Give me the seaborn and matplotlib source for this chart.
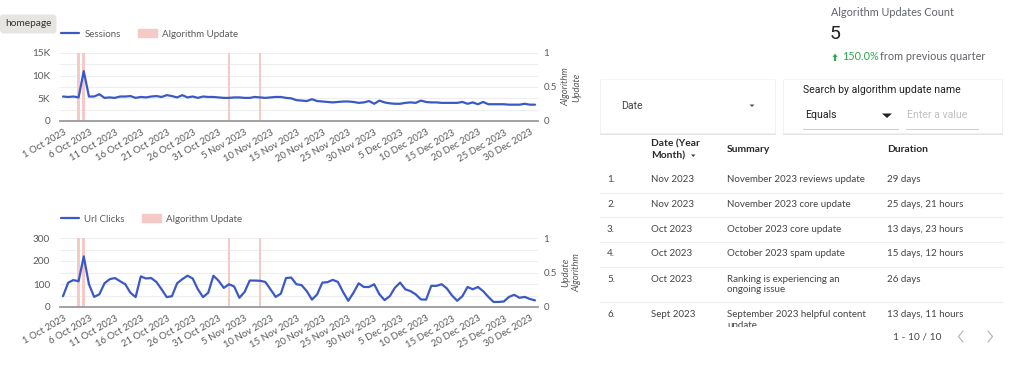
import numpy as np
import pandas as pd
import seaborn as sns
import matplotlib
matplotlib.use("Agg")
import matplotlib.pyplot as plt
from matplotlib.lines import Line2D
from matplotlib.patches import Patch, Rectangle, FancyBboxPatch, Polygon

# ---------------- data ----------------
start_date = "2023-10-01"
sessions_k = [5.4, 5.3, 5.4, 5.2, 11.0, 5.4, 5.4, 5.9, 5.1, 5.2, 5.1, 5.4, 5.4, 5.5, 5.1, 5.3,
              5.2, 5.4, 5.5, 5.3, 5.7, 5.5, 5.2, 5.7, 5.2, 5.4, 5.1, 5.4, 5.3, 5.3, 5.2, 5.1,
              5.1, 5.2, 5.2, 5.1, 5.1, 5.3, 5.2, 5.1, 5.2, 5.3, 5.3, 5.1, 5.0, 4.6, 4.5,
              4.4, 4.8, 4.4, 4.3, 4.2, 4.1, 4.2, 4.3, 4.3, 4.2, 4.0, 4.1, 4.4, 3.8, 4.5, 4.1,
              3.9, 3.8, 3.8, 4.0, 4.1, 4.0, 4.5, 4.2, 4.1, 4.1, 4.0, 4.0, 4.0, 4.0, 4.2, 3.8,
              4.1, 3.7, 4.2, 3.7, 3.7, 3.7, 3.7, 3.6, 3.6, 3.6, 3.8, 3.6, 3.6]
url_clicks = [47, 106, 117, 112, 220, 99, 44, 55, 103, 121, 126, 112, 99, 62, 43, 133,
              124, 126, 109, 77, 43, 47, 103, 121, 136, 124, 77, 43, 62, 136, 114, 83,
              99, 89, 40, 65, 115, 115, 114, 109, 77, 44, 58, 126, 128, 99, 95, 69,
              32, 55, 106, 108, 118, 109, 65, 27, 62, 103, 87, 87, 99, 55, 30, 47,
              84, 106, 77, 69, 55, 33, 32, 92, 92, 99, 81, 50, 27, 47, 87, 77,
              87, 69, 44, 22, 22, 24, 44, 53, 40, 44, 35, 29]
update_dates = ["2023-10-04", "2023-10-05", "2023-11-02", "2023-11-08"]
update_flags = [1, 1, 1, 1]

kpi_title = "Algorithm Updates Count"
kpi_value = "5"
kpi_change = "150.0%"
kpi_change_text = "from previous quarter"

table_nums = ["1.", "2.", "3.", "4.", "5.", "6."]
table_dates = ["Nov 2023", "Nov 2023", "Oct 2023", "Oct 2023", "Oct 2023", "Sept 2023"]
table_summaries = ["November 2023 reviews update", "November 2023 core update",
                   "October 2023 core update", "October 2023 spam update",
                   "Ranking is experiencing an\nongoing issue",
                   "September 2023 helpful content\nupdate"]
table_durations = ["29 days", "25 days, 21 hours", "13 days, 23 hours",
                   "15 days, 12 hours", "26 days", "13 days, 11 hours"]
pagination = "1 - 10 / 10"

# ---------------- setup ----------------
sns.set_theme(style="white")
plt.rcParams["font.family"] = ["Lato", "DejaVu Sans"]

dates = pd.date_range(start_date, periods=len(url_clicks), freq="D")
df = pd.DataFrame({"date": dates,
                   "Sessions": np.array(sessions_k) * 1000,
                   "Url Clicks": url_clicks})
upd = pd.DataFrame({"date": pd.to_datetime(update_dates), "flag": update_flags})

W, H = 1024, 372
fig = plt.figure(figsize=(W / 100, H / 100), dpi=100)
fig.patch.set_facecolor("white")

BLUE = "#3b59c6"
PINK = "#f5c9c5"
GRID = "#eeeeee"
TXT = "#5a5a5a"


def px_axes(l, t, r, b, **kw):
    return fig.add_axes([l / W, 1 - b / H, (r - l) / W, (b - t) / H], **kw)


def chart(top, bottom, col, ymax, yticks, yticklabels, legend_y, y2label, y2x):
    ax = px_axes(60, top, 538, bottom)
    ax2 = ax.twinx()
    ax.set_zorder(ax2.get_zorder() + 1)
    ax.patch.set_visible(False)

    # update bars on secondary axis
    ax2.bar(upd["date"], upd["flag"], width=0.5, color=PINK, zorder=2, linewidth=0)
    ax2.set_ylim(0, 1)
    ax2.set_yticks([0, 0.5, 1])
    ax2.set_yticklabels(["0", "0.5", "1"])
    ax2.set_yticks(np.arange(0, 1.01, 1 / 6), minor=True)
    ax2.set_axisbelow(True)
    ax2.grid(which="both", axis="y", color=GRID, lw=0.8)
    ax2.grid(False, axis="x")
    ax2.tick_params(axis="y", which="both", length=0, pad=4, labelsize=7, labelcolor=TXT)
    for s in ax2.spines.values():
        s.set_visible(False)
    ax2.text(y2x, 0.5, y2label, transform=ax2.transAxes, rotation=90, ha="center",
             va="center", fontsize=6.8, style="italic", color=TXT, linespacing=1.25)

    sns.lineplot(data=df, x="date", y=col, ax=ax, color=BLUE, lw=1.6, zorder=3)
    ax.set_xlim(dates[0] - pd.Timedelta(days=0.58), dates[-1] + pd.Timedelta(days=0.58))
    ax.set_ylim(0, ymax)
    ax.set_yticks(yticks)
    ax.set_yticklabels(yticklabels)
    ax.grid(False)
    ax.set_xlabel("")
    ax.set_ylabel("")
    tick_dates = dates[::5]
    ax.set_xticks(tick_dates)
    ax.set_xticklabels([f"{d.day} {d.strftime('%b %Y')}" for d in tick_dates],
                       rotation=30, ha="right", rotation_mode="anchor")
    ax.tick_params(axis="x", length=0, pad=5, labelsize=6.9, labelcolor=TXT)
    ax.tick_params(axis="y", length=0, pad=7, labelsize=7.2, labelcolor=TXT)
    for k, s in ax.spines.items():
        s.set_visible(k == "bottom")
    ax.spines["bottom"].set_color("#9a9a9a")
    ax.spines["bottom"].set_linewidth(1.3)

    handles = [Line2D([0], [0], color=BLUE, lw=1.6), Patch(color=PINK)]
    ax.legend(handles, [col, "Algorithm Update"], loc="center left",
              bbox_to_anchor=(61 / W, 1 - legend_y / H), bbox_transform=fig.transFigure,
              ncol=2, frameon=False, fontsize=7, handlelength=1.9, handleheight=0.9,
              handletextpad=0.5, columnspacing=1.8, borderpad=0, borderaxespad=0,
              labelcolor=TXT)
    return ax


chart(53, 121, "Sessions", 15000, [0, 5000, 10000, 15000], ["0", "5K", "10K", "15K"],
      34, "Algorithm\nUpdate", 1.07)
chart(238, 307, "Url Clicks", 300, [0, 100, 200, 300], ["0", "100", "200", "300"],
      219, "Update\nAlgorithm", 1.07)

# ---------------- overlay (dashboard widgets) ----------------
ov = fig.add_axes([0, 0, 1, 1], zorder=10)
ov.set_xlim(0, W)
ov.set_ylim(H, 0)
ov.axis("off")

# tooltip "homepage"
ov.add_patch(FancyBboxPatch((0.5, 15.5), 56, 18, boxstyle="round,pad=0,rounding_size=3",
                            fc="#d6d4d1", ec="none", alpha=0.6))
ov.add_patch(FancyBboxPatch((0, 14.5), 56, 18, boxstyle="round,pad=0,rounding_size=3",
                            fc="#e7e5e2", ec="none"))
ov.text(5, 23.5, "homepage", fontsize=7.3, color="#333333", va="center", ha="left")

# KPI
ov.text(831, 13, kpi_title, fontsize=7.8, color="#5f6368", va="center", ha="left")
ov.text(830, 34, kpi_value, fontsize=14, color="#202124", va="center", ha="left",
        family=["Roboto", "DejaVu Sans"])
ov.add_patch(Polygon([[832.5, 57], [837.5, 57], [835, 53.5]], closed=True, fc="#34a853", ec="none"))
ov.plot([835, 835], [56, 60.5], color="#34a853", lw=1.6, solid_capstyle="butt")
ov.text(842, 57, kpi_change, fontsize=7.8, color="#34a853", va="center", ha="left")
ov.text(880, 57, kpi_change_text, fontsize=7.8, color="#5f6368", va="center", ha="left")

# filter boxes
for (x0, x1) in [(600, 775), (783, 1002)]:
    ov.add_patch(Rectangle((x0 - 0.5, 80.5), x1 - x0 + 1, 54.5, fc="#cfcfcf", ec="none", alpha=0.55))
    ov.add_patch(Rectangle((x0, 79), x1 - x0, 54, fc="white", ec="#f0f0f0", lw=0.4))
RB = ["Roboto", "DejaVu Sans"]
ov.text(621, 106, "Date", fontsize=7.6, color="#444444", va="center", ha="left", family=RB)
ov.add_patch(Polygon([[749.5, 104.5], [754.5, 104.5], [752, 107]], closed=True, fc="#555555", ec="none"))
ov.text(803, 90, "Search by algorithm update name", fontsize=7.6, color="#222222",
        va="center", ha="left", family=RB)
ov.text(805, 115.5, "Equals", fontsize=7.6, color="#222222", va="center", ha="left", family=RB)
ov.add_patch(Polygon([[882, 113.5], [892, 113.5], [887, 118]], closed=True, fc="#222222", ec="none"))
ov.plot([803, 898], [129, 129], color="#d0d0d0", lw=0.8)
ov.text(907, 115.5, "Enter a value", fontsize=7.6, color="#c0c0c0", va="center", ha="left", family=RB)
ov.plot([906, 978], [129, 129], color="#d0d0d0", lw=0.8)

# table header
HB = dict(fontsize=7.4, color="#2a2a2a", fontweight="bold", va="center", ha="left")
ov.text(651, 144, "Date (Year", **HB)
ov.text(651, 155.5, "Month)", **HB)
ov.add_patch(Polygon([[691, 154.5], [695.5, 154.5], [693.25, 157]], closed=True, fc="#444444", ec="none"))
ov.text(727, 150, "Summary", **HB)
ov.text(887, 150, "Duration", **HB)

# table rows
row_y = [180, 204.5, 229.5, 254, 279, 314.5]
sep_y = [192.5, 217, 242, 267, 302]
BT = dict(fontsize=7.0, color="#444444", va="center", ha="left")
for y in sep_y:
    ov.plot([600, 1003], [y, y], color="#efefef", lw=0.8)
for i, y in enumerate(row_y):
    ov.text(607, y, table_nums[i], **BT)
    ov.text(651, y, table_dates[i], **BT)
    for k, line in enumerate(table_summaries[i].split("\n")):
        ov.text(727, y + 11 * k, line, **BT)
    ov.text(887, y, table_durations[i], **BT)

# clip the overflowing last row
ov.add_patch(Rectangle((595, 326.5), 420, 46, fc="white", ec="none", zorder=5))

# pagination
ov.text(893, 336.5, pagination, fontsize=7.3, color="#444444", va="center", ha="left", zorder=6)
ov.plot([963, 958.5, 963], [331, 336.5, 342], color="#b8b8b8", lw=0.9, zorder=6)
ov.plot([988, 992.5, 988], [331, 336.5, 342], color="#b8b8b8", lw=0.9, zorder=6)

fig.savefig("out.png", dpi=100, facecolor="white")
